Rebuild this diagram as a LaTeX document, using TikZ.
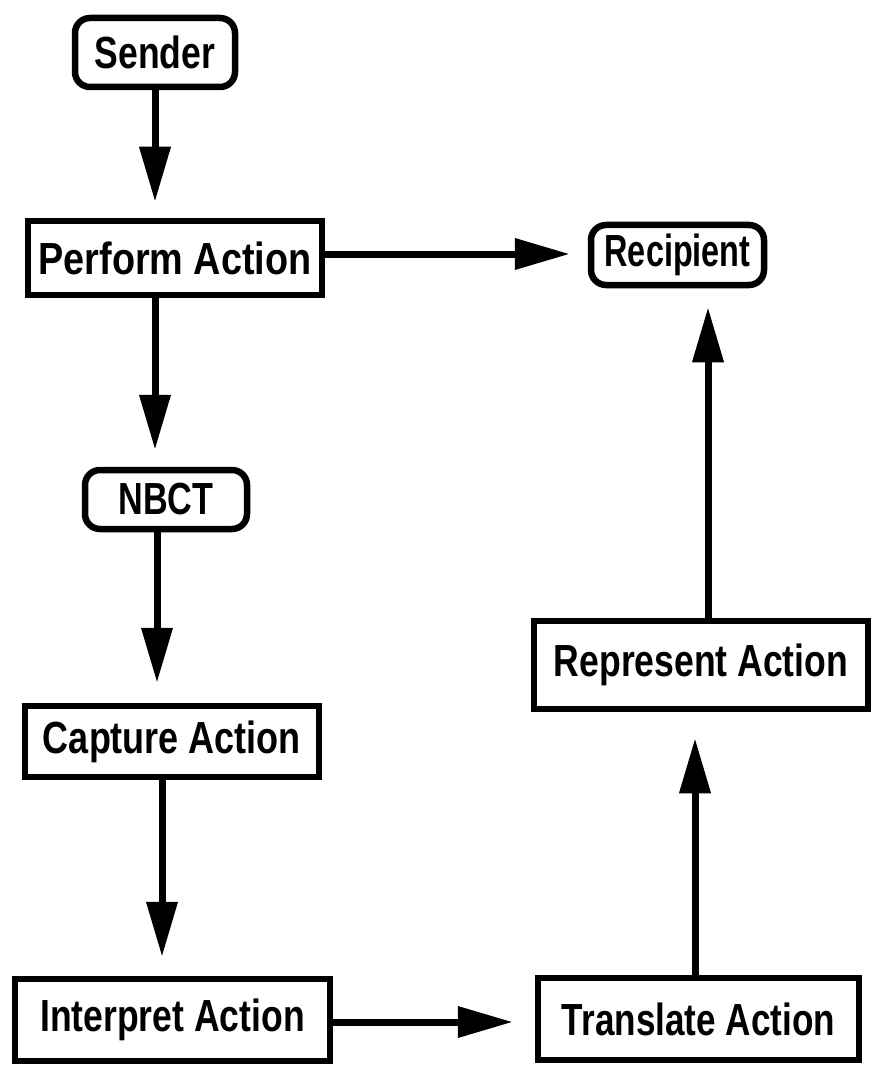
\documentclass[tikz,border=0pt]{standalone}
\usepackage{fontspec}
\usepackage{graphicx}
\setmainfont{Liberation Sans}
\usetikzlibrary{arrows.meta}
% horizontally condensed label text
\newcommand{\sx}[2]{\scalebox{#1}[1]{#2}}
\tikzset{
  base/.style={draw=black, line width=6.5pt, fill=white, inner sep=0pt,
    font=\fontsize{45}{50}\selectfont\bfseries, text=black},
  actbox/.style={base, rectangle},
  endbox/.style={base, rectangle, rounded corners=15pt},
  arr/.style={line width=7pt, -{Triangle[length=55pt,width=30pt]}, shorten >=#1},
  arr/.default=18pt
}
\begin{document}
\begin{tikzpicture}[x=1pt, y=-1pt]
  \useasboundingbox (0,0) rectangle (872,1067);

  % terminal nodes
  \node[endbox, minimum width=160pt, minimum height=69pt] (sender) at (155,52.5) {\sx{0.79}{Sender}};
  \node[endbox, minimum width=173pt, minimum height=60pt] (recipient) at (677.5,255) {\sx{0.72}{Recipient}};
  \node[endbox, minimum width=162pt, minimum height=59pt] (nbct) at (166,499.5) {\sx{0.76}{NBCT}};

  % action boxes
  \node[actbox, minimum width=294pt, minimum height=74pt] (perform) at (175,258) {\sx{0.84}{Perform Action}};
  \node[actbox, minimum width=294pt, minimum height=71pt] (capture) at (172,741.5) {\sx{0.80}{Capture Action}};
  \node[actbox, minimum width=315pt, minimum height=82pt] (interpret) at (172.5,1020) {\sx{0.79}{Interpret Action}};
  \node[actbox, minimum width=321pt, minimum height=82pt] (translate) at (698.5,1019) {\sx{0.78}{Translate Action}};
  \node[actbox, minimum width=334pt, minimum height=88pt] (represent) at (701,665) {\sx{0.79}{Represent Action}};

  % connectors
  \draw[arr=16pt] (sender.south) -- (sender.south |- perform.north);
  \draw[arr=17pt] (perform.south -| sender.south) -- (sender.south |- nbct.north);
  \draw[arr=18pt] ([yshift=4pt]perform.east) -- ([yshift=4pt]perform.east -| recipient.west);
  \draw[arr=20pt] ([xshift=-9pt]nbct.south) -- ([xshift=-9pt]nbct.south |- capture.north);
  \draw[arr=19pt] ([xshift=-10pt]capture.south) -- ([xshift=-10pt]capture.south |- interpret.north);
  \draw[arr=22pt] ([yshift=-2pt]interpret.east) -- ([yshift=-2pt]interpret.east -| translate.west);
  \draw[arr=26pt] ([xshift=-3.5pt]translate.north) -- ([xshift=-3.5pt]translate.north |- represent.south);
  \draw[arr=19pt] ([xshift=7pt]represent.north) -- ([xshift=7pt]represent.north |- recipient.south);
\end{tikzpicture}
\end{document}
